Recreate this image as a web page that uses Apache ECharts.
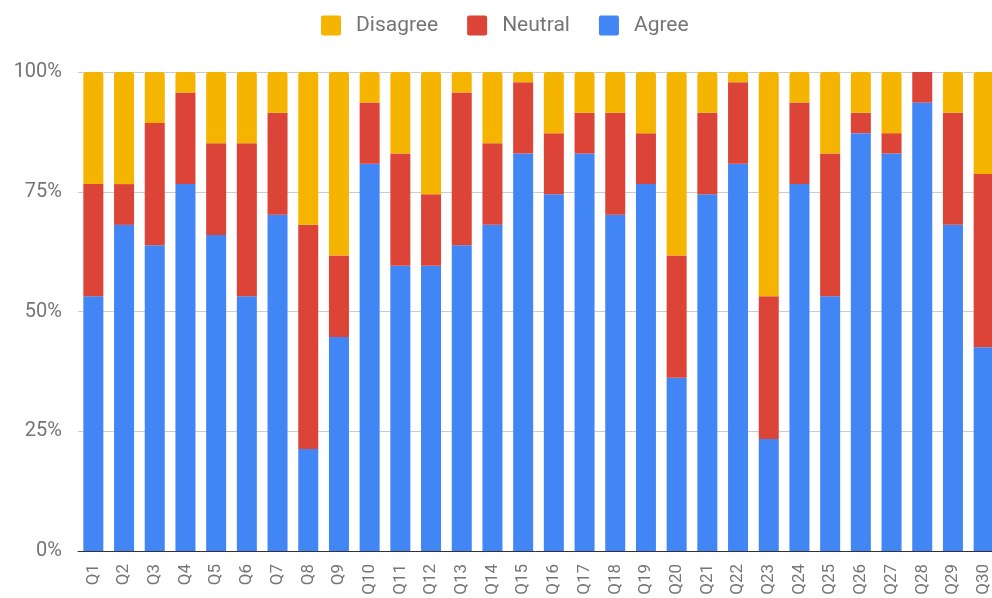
<!DOCTYPE html>
<html>
<head>
<meta charset="utf-8">
<script src="https://cdn.jsdelivr.net/npm/echarts@6/dist/echarts.min.js"></script>
<style>html,body{margin:0;padding:0;background:#fff}#c{width:992px;height:598px}</style>
</head>
<body>
<div id="c"></div>
<script>
// Responses out of 47 per question
var RESPONDENTS = 47;
var categories = ['Q1','Q2','Q3','Q4','Q5','Q6','Q7','Q8','Q9','Q10','Q11','Q12','Q13','Q14','Q15','Q16','Q17','Q18','Q19','Q20','Q21','Q22','Q23','Q24','Q25','Q26','Q27','Q28','Q29','Q30'];
var agree    = [25,32,30,36,31,25,33,10,21,38,28,28,30,32,39,35,39,33,36,17,35,38,11,36,25,41,39,44,32,20];
var neutral  = [11, 4,12, 9, 9,15,10,22, 8, 6,11, 7,15, 8, 7, 6, 4,10, 5,12, 8, 8,14, 8,14, 2, 2, 3,11,17];
var disagree = [11,11, 5, 2, 7, 7, 4,15,18, 3, 8,12, 2, 7, 1, 6, 4, 4, 6,18, 4, 1,22, 3, 8, 4, 6, 0, 4,10];
var yTickLabels = ['0%','25%','50%','75%','100%'];

var chart = echarts.init(document.getElementById('c'));
var font = 'Roboto, Arial, sans-serif';
var legendIcon = 'path://M2,0 H18 Q20,0 20,2 V18 Q20,20 18,20 H2 Q0,20 0,18 V2 Q0,0 2,0 Z';
chart.setOption({
  animation: false,
  legend: {
    data: ['Disagree','Neutral','Agree'],
    top: 15,
    left: 321,
    padding: 0,
    itemWidth: 20,
    itemHeight: 20,
    itemGap: 29,
    icon: legendIcon,
    textStyle: { color: '#757575', fontSize: 21, fontFamily: font, padding: [0,0,0,10] }
  },
  grid: { left: 78, width: 921, top: 72, height: 479, containLabel: false, outerBoundsMode: 'none' },
  xAxis: {
    type: 'category',
    data: categories,
    axisLine: { lineStyle: { color: '#333', width: 1 } },
    axisTick: { show: false },
    axisLabel: { rotate: 90, color: '#757575', fontSize: 17, fontFamily: font, margin: 13, interval: 0 }
  },
  yAxis: {
    type: 'value',
    min: 0,
    max: RESPONDENTS,
    interval: RESPONDENTS / 4,
    axisLine: { show: false },
    axisTick: { show: false },
    splitLine: { lineStyle: { color: '#cccccc' } },
    axisLabel: {
      color: '#757575', fontSize: 20, fontFamily: font, margin: 16,
      formatter: function (v) { return yTickLabels[Math.round(v / (RESPONDENTS / 4))]; }
    }
  },
  series: [
    { name: 'Agree', type: 'bar', stack: 's', data: agree, barWidth: 20, itemStyle: { color: '#4285F4' } },
    { name: 'Neutral', type: 'bar', stack: 's', data: neutral, barWidth: 20, itemStyle: { color: '#DB4437' } },
    { name: 'Disagree', type: 'bar', stack: 's', data: disagree, barWidth: 20, itemStyle: { color: '#F4B400', borderRadius: [3,3,0,0] } }
  ]
});
</script>
</body>
</html>
